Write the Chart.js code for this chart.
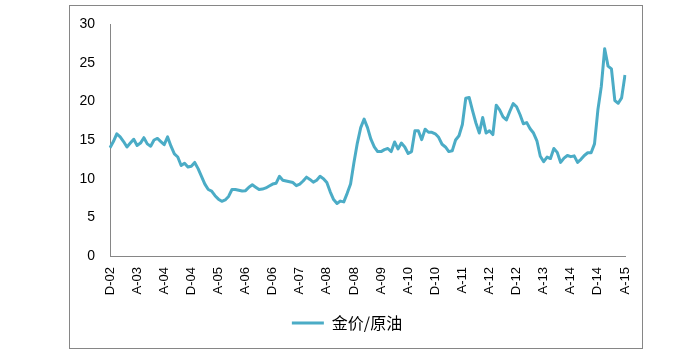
<!DOCTYPE html>
<html>
<head>
<meta charset="utf-8">
<script src="https://cdn.jsdelivr.net/npm/chart.js@4/dist/chart.umd.min.js"></script>
<style>
html,body{margin:0;padding:0;background:#fff;}
#wrap{position:relative;width:700px;height:362px;}
</style>
</head>
<body>
<div id="wrap"><canvas id="c" width="700" height="362"></canvas></div>
<script>
// Series name
const seriesName = '金价/原油';
// Month initials used to build monthly category labels (Dec 2002 .. Aug 2015)
const monthInitials = ['J','F','M','A','M','J','J','A','S','O','N','D'];
const startYear = 2002, startMonth = 11, monthCount = 153;
// Only every 8th category label is shown on the axis
const tickEvery = 8;
// Y axis ticks
const yTicks = [0, 5, 10, 15, 20, 25, 30];
// Gold / oil ratio, monthly values
const ratio = [
14.0,14.8,15.8,15.4,14.8,14.1,14.6,15.1,14.3,14.6,
15.3,14.5,14.2,15.0,15.2,14.8,14.4,15.4,14.2,13.2,
12.8,11.7,12.0,11.5,11.6,12.1,11.3,10.3,9.3,8.6,
8.4,7.8,7.35,7.07,7.25,7.7,8.6,8.6,8.5,8.4,
8.45,8.9,9.2,8.9,8.6,8.65,8.8,9.05,9.3,9.4,
10.3,9.8,9.7,9.6,9.5,9.1,9.3,9.7,10.2,9.9,
9.55,9.8,10.3,10.0,9.5,8.3,7.3,6.8,7.1,7.0,
8.1,9.3,12.1,14.6,16.6,17.7,16.6,15.1,14.1,13.5,
13.5,13.75,13.9,13.5,14.75,13.85,14.6,14.1,13.25,13.5,
16.2,16.2,15.05,16.4,16.0,16.0,15.8,15.35,14.45,14.1,
13.5,13.6,15.0,15.55,17.0,20.4,20.5,18.8,17.2,15.9,
17.9,15.9,16.2,15.7,19.5,18.9,18.0,17.6,18.7,19.7,
19.3,18.3,17.1,17.25,16.45,15.9,14.9,12.9,12.2,12.8,
12.6,13.9,13.4,12.1,12.65,13.0,12.85,12.95,12.1,12.5,
13.0,13.35,13.35,14.5,18.9,21.9,26.8,24.55,24.2,20.1,
19.75,20.45,23.4
];

const categories = [];
for (let i = 0; i < monthCount; i++) {
  const m = (startMonth + i) % 12;
  const y = startYear + Math.floor((startMonth + i) / 12);
  categories.push(monthInitials[m] + '-' + String(y % 100).padStart(2, '0'));
}

const lineColor = '#4BACC6';

const frame = {
  id: 'frame',
  beforeDraw(chart) {
    const ctx = chart.ctx;
    ctx.save();
    ctx.fillStyle = '#fff';
    ctx.fillRect(0, 0, chart.width, chart.height);
    ctx.strokeStyle = '#868686';
    ctx.lineWidth = 1;
    ctx.strokeRect(69.5, 5.5, 573, 343);
    ctx.restore();
  }
};

new Chart(document.getElementById('c'), {
  type: 'line',
  data: {
    labels: categories,
    datasets: [{
      label: seriesName,
      data: ratio,
      borderColor: lineColor,
      backgroundColor: lineColor,
      borderWidth: 3,
      pointRadius: 0,
      tension: 0,
      borderJoinStyle: 'round',
      fill: false
    }]
  },
  options: {
    responsive: false,
    animation: false,
    devicePixelRatio: 1,
    layout: { padding: { left: 69, right: 75, top: 24, bottom: 21 } },
    plugins: {
      tooltip: { enabled: false },
      legend: {
        position: 'bottom',
        labels: {
          boxWidth: 32,
          boxHeight: 3,
          padding: 10,
          color: '#000',
          font: { family: '"Noto Sans CJK SC", sans-serif', size: 16 },
          generateLabels(chart) {
            return chart.data.datasets.map((ds, i) => ({
              text: ds.label,
              fillStyle: ds.borderColor,
              strokeStyle: ds.borderColor,
              lineWidth: 0,
              hidden: false,
              datasetIndex: i,
              fontColor: '#000'
            }));
          }
        }
      }
    },
    scales: {
      x: {
        type: 'category',
        offset: false,
        grid: { display: false, drawTicks: true, tickLength: 8 },
        border: { display: true, color: '#868686', width: 1 },
        afterFit(scale) { scale.height = 49; },
        ticks: {
          autoSkip: false,
          maxRotation: 90,
          minRotation: 90,
          padding: 3,
          color: '#000',
          font: { family: '"Liberation Sans", Arial, sans-serif', size: 13 },
          callback(value, index) {
            return index % tickEvery === 0 ? this.getLabelForValue(value) : '';
          }
        }
      },
      y: {
        min: yTicks[0],
        max: yTicks[yTicks.length - 1],
        grid: { display: false, drawTicks: true, tickLength: 8 },
        border: { display: true, color: '#868686', width: 1 },
        afterFit(scale) { scale.width = 41; },
        afterBuildTicks(scale) { scale.ticks = yTicks.map(v => ({ value: v })); },
        ticks: {
          padding: 7,
          color: '#000',
          font: { family: '"Liberation Sans", Arial, sans-serif', size: 14 }
        }
      }
    }
  },
  plugins: [frame]
});
</script>
</body>
</html>
